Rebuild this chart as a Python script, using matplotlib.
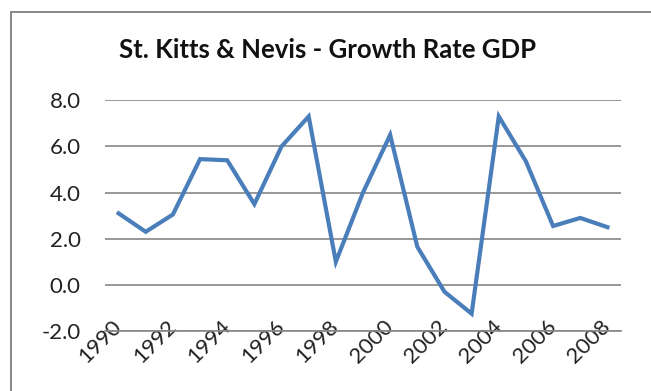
import matplotlib
matplotlib.use("Agg")
import matplotlib.pyplot as plt
from matplotlib.patches import Polygon

# Annual GDP growth rate, St. Kitts & Nevis (percent)
years = list(range(1990, 2009))
growth = [3.1, 2.3, 3.05, 5.45, 5.4, 3.5, 6.0, 7.3, 1.0, 4.0,
          6.5, 1.65, -0.3, -1.25, 7.3, 5.35, 2.55, 2.9, 2.5]
y_ticks = [-2.0, 0.0, 2.0, 4.0, 6.0, 8.0]
title = "St. Kitts & Nevis - Growth Rate GDP"

plt.rcParams["font.family"] = ["Lato", "DejaVu Sans"]

fig = plt.figure(figsize=(6.51, 3.91), dpi=100)
fig.patch.set_facecolor("white")

# outer chart frame: left and top edges as thin filled bands
W, H = 651.0, 391.0
x0, x1 = 9.5 / W, 12.0 / W
y0, y1 = 1 - 10.5 / H, 1 - 13.0 / H
fig.add_artist(Polygon([(x0, 0), (x0, y0), (1, y0), (1, y1), (x1, y1), (x1, 0)],
                       closed=True, transform=fig.transFigure,
                       facecolor="#8a8a8a", edgecolor="none"))

ax = fig.add_axes([0.1613, 0.1535, 0.7926, 0.59])
x = list(range(len(years)))
ax.plot(x, growth, color="#4a7ebb", linewidth=3.0, solid_joinstyle="miter")

ax.set_xlim(-0.5, len(years) - 0.5)
ax.set_ylim(y_ticks[0], y_ticks[-1])
ax.set_yticks(y_ticks)
ax.set_yticklabels([f"{v:.1f}" for v in y_ticks], fontsize=16, color="#222222")
ax.yaxis.grid(True, color="#868686", linewidth=1.2)
ax.set_axisbelow(True)
ax.tick_params(axis="y", length=0, pad=17.5)

ax.set_xticks(x[::2])
ax.set_xticklabels([str(y) for y in years[::2]], rotation=45, ha="right",
                   va="center", rotation_mode="anchor", fontsize=16, color="#222222")
ax.tick_params(axis="x", length=0, pad=-5.5)

for side in ("left", "right", "top"):
    ax.spines[side].set_visible(False)
ax.spines["bottom"].set_color("#868686")
ax.spines["bottom"].set_linewidth(1.2)

fig.text(0.503, 0.871, title, ha="center", va="center", fontsize=18.5,
         fontweight="bold", color="#111111")

fig.savefig("out.png", dpi=100)
